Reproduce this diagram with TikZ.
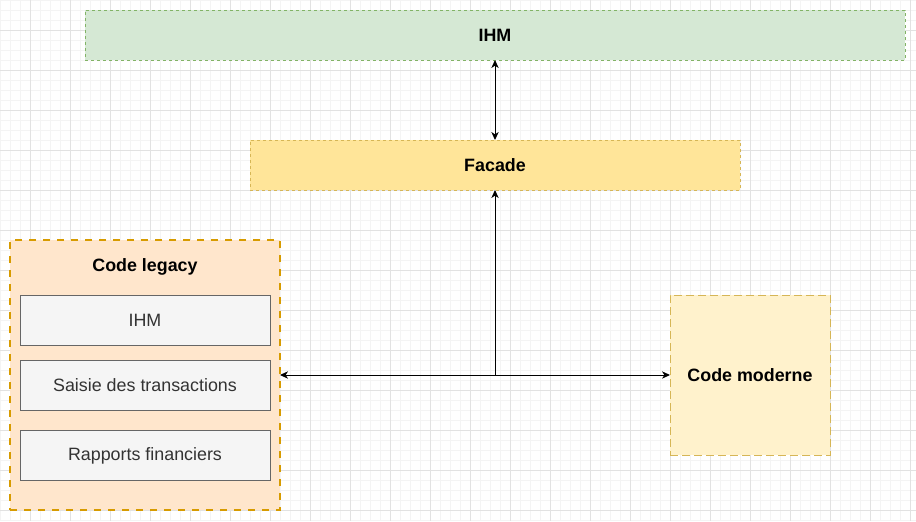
\documentclass[tikz,border=0pt]{standalone}
\usepackage{fontspec}
\setmainfont{Liberation Sans}
\usetikzlibrary{arrows.meta}
\definecolor{gridminor}{HTML}{F4F4F4}
\definecolor{gridmajor}{HTML}{E2E2E2}
\definecolor{greenfill}{HTML}{D5E8D4}
\definecolor{greenline}{HTML}{82B366}
\definecolor{facadefill}{HTML}{FFE599}
\definecolor{yellowline}{HTML}{D6B656}
\definecolor{legacyfill}{HTML}{FFE6CC}
\definecolor{legacyline}{HTML}{D79B00}
\definecolor{modernfill}{HTML}{FFF2CC}
\definecolor{greyfill}{HTML}{F5F5F5}
\definecolor{greyline}{HTML}{666666}
\definecolor{greytext}{HTML}{333333}
\tikzset{
  box/.style={rectangle, inner sep=0pt, outer sep=0pt, line width=0.75pt, font=\fontsize{13.4pt}{16pt}\selectfont\bfseries, text=black},
  smalldash/.style={dash pattern=on 2.25pt off 2.25pt},
  longdash/.style={dash pattern=on 6pt off 3pt},
  legacydash/.style={dash pattern=on 5.5pt off 5pt},
  inner/.style={rectangle, inner sep=0pt, outer sep=0pt, line width=0.75pt, draw=greyline, fill=greyfill, text=greytext, font=\fontsize{13.4pt}{16pt}\selectfont, minimum width=187.5pt, minimum height=37.5pt},
  tip/.style={Stealth[length=6pt,width=5.5pt,inset=1.8pt]},
  conn/.style={line width=0.75pt, black, {Stealth[length=6pt,width=5.5pt,inset=1.8pt]}-{Stealth[length=6pt,width=5.5pt,inset=1.8pt]}},
  conn1/.style={line width=0.75pt, black, -{Stealth[length=6pt,width=5.5pt,inset=1.8pt]}}
}
\begin{document}
\begin{tikzpicture}[x=0.75pt,y=-0.75pt]
\useasboundingbox (0,0) rectangle (916,521);
\fill[white] (0,0) rectangle (916,521);
% grid
\foreach \i in {0,10,...,910} \draw[gridminor, line width=0.75pt] (\i,0) -- (\i,521);
\foreach \j in {0,10,...,520} \draw[gridminor, line width=0.75pt] (0,\j) -- (916,\j);
\foreach \i in {30,70,...,910} \draw[gridmajor, line width=0.75pt] (\i,0) -- (\i,521);
\foreach \j in {30,70,...,510} \draw[gridmajor, line width=0.75pt] (0,\j) -- (916,\j);
% nodes
\node[box, smalldash, draw=greenline, fill=greenfill, minimum width=615pt, minimum height=37.5pt] (ihm) at (495,35) {IHM};
\node[box, smalldash, draw=yellowline, fill=facadefill, minimum width=367.5pt, minimum height=37.5pt] (facade) at (495,165) {Facade};
\node[box, legacydash, draw=legacyline, fill=legacyfill, minimum width=202.5pt, minimum height=202.5pt, line width=1.05pt] (legacy) at (145,375) {};
\node[box] (legacylabel) at (145,266.5) {Code legacy};
\node[inner] (lihm) at (145,320.5) {IHM};
\node[inner] (saisie) at (145,385.5) {Saisie des transactions};
\node[inner] (rapports) at (145,455.5) {Rapports financiers};
\node[box, longdash, draw=yellowline, fill=modernfill, minimum width=120pt, minimum height=120pt] (moderne) at (750,375) {Code moderne};
\coordinate (junction) at (495,375);
% connectors
\draw[conn] (ihm.south) -- (facade.north);
\draw[conn] (legacy.east) -- (moderne.west);
\draw[conn1] (junction) -- (facade.south);
\end{tikzpicture}
\end{document}
